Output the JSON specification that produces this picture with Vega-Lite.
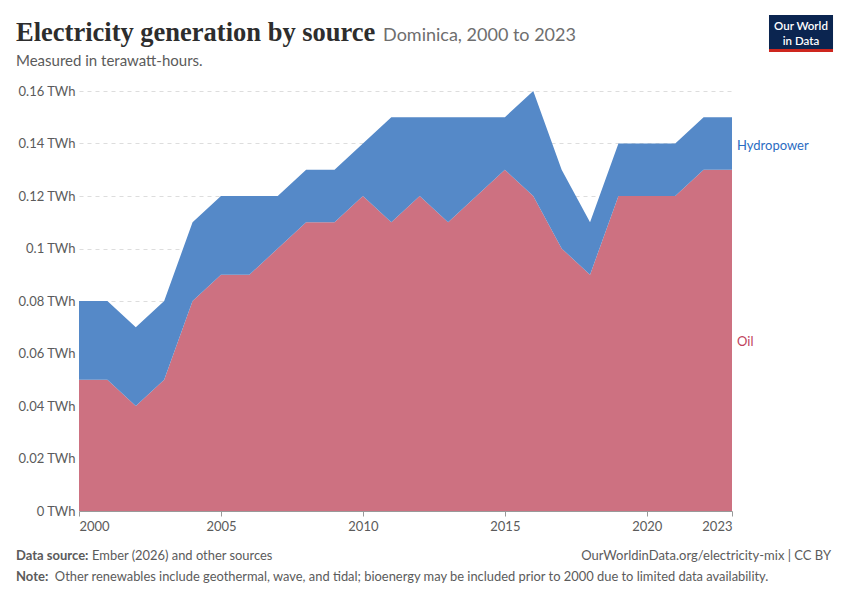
{
  "$schema": "https://vega.github.io/schema/vega-lite/v6.json",
  "width": 653,
  "height": 420,
  "autosize": "none",
  "padding": {"left": 79, "top": 91, "right": 118, "bottom": 89},
  "background": "white",
  "config": {
    "font": "Lato",
    "view": {"stroke": null}
  },
  "data": {
    "values": [
      {"year": 2000, "source": "Oil", "value": 0.05}, {"year": 2000, "source": "Hydropower", "value": 0.03},
      {"year": 2001, "source": "Oil", "value": 0.05}, {"year": 2001, "source": "Hydropower", "value": 0.03},
      {"year": 2002, "source": "Oil", "value": 0.04}, {"year": 2002, "source": "Hydropower", "value": 0.03},
      {"year": 2003, "source": "Oil", "value": 0.05}, {"year": 2003, "source": "Hydropower", "value": 0.03},
      {"year": 2004, "source": "Oil", "value": 0.08}, {"year": 2004, "source": "Hydropower", "value": 0.03},
      {"year": 2005, "source": "Oil", "value": 0.09}, {"year": 2005, "source": "Hydropower", "value": 0.03},
      {"year": 2006, "source": "Oil", "value": 0.09}, {"year": 2006, "source": "Hydropower", "value": 0.03},
      {"year": 2007, "source": "Oil", "value": 0.10}, {"year": 2007, "source": "Hydropower", "value": 0.02},
      {"year": 2008, "source": "Oil", "value": 0.11}, {"year": 2008, "source": "Hydropower", "value": 0.02},
      {"year": 2009, "source": "Oil", "value": 0.11}, {"year": 2009, "source": "Hydropower", "value": 0.02},
      {"year": 2010, "source": "Oil", "value": 0.12}, {"year": 2010, "source": "Hydropower", "value": 0.02},
      {"year": 2011, "source": "Oil", "value": 0.11}, {"year": 2011, "source": "Hydropower", "value": 0.04},
      {"year": 2012, "source": "Oil", "value": 0.12}, {"year": 2012, "source": "Hydropower", "value": 0.03},
      {"year": 2013, "source": "Oil", "value": 0.11}, {"year": 2013, "source": "Hydropower", "value": 0.04},
      {"year": 2014, "source": "Oil", "value": 0.12}, {"year": 2014, "source": "Hydropower", "value": 0.03},
      {"year": 2015, "source": "Oil", "value": 0.13}, {"year": 2015, "source": "Hydropower", "value": 0.02},
      {"year": 2016, "source": "Oil", "value": 0.12}, {"year": 2016, "source": "Hydropower", "value": 0.04},
      {"year": 2017, "source": "Oil", "value": 0.10}, {"year": 2017, "source": "Hydropower", "value": 0.03},
      {"year": 2018, "source": "Oil", "value": 0.09}, {"year": 2018, "source": "Hydropower", "value": 0.02},
      {"year": 2019, "source": "Oil", "value": 0.12}, {"year": 2019, "source": "Hydropower", "value": 0.02},
      {"year": 2020, "source": "Oil", "value": 0.12}, {"year": 2020, "source": "Hydropower", "value": 0.02},
      {"year": 2021, "source": "Oil", "value": 0.12}, {"year": 2021, "source": "Hydropower", "value": 0.02},
      {"year": 2022, "source": "Oil", "value": 0.13}, {"year": 2022, "source": "Hydropower", "value": 0.02},
      {"year": 2023, "source": "Oil", "value": 0.13}, {"year": 2023, "source": "Hydropower", "value": 0.02}
    ]
  },
  "layer": [
    {
      "mark": {"type": "area", "opacity": 1},
      "encoding": {
        "x": {
          "field": "year", "type": "quantitative",
          "scale": {"domain": [2000, 2023], "nice": false, "zero": false},
          "axis": {
            "title": null, "values": [2000, 2005, 2010, 2015, 2020, 2023], "format": "d",
            "labelFlush": true, "labelFontSize": 13, "labelColor": "#5b5b5b",
            "domainColor": "#999999", "tickColor": "#999999", "tickSize": 5,
            "labelPadding": 4, "grid": false
          }
        },
        "y": {
          "field": "value", "type": "quantitative", "stack": "zero",
          "scale": {"domain": [0, 0.16], "nice": false},
          "axis": {
            "title": null, "tickCount": 8, "format": "~g",
            "labelExpr": "datum.label + ' TWh'",
            "labelFontSize": 13, "labelColor": "#5b5b5b", "labelPadding": 4,
            "domain": false, "ticks": false,
            "gridColor": "#dddddd", "gridDash": [4, 4]
          }
        },
        "color": {
          "field": "source", "type": "nominal",
          "scale": {"domain": ["Hydropower", "Oil"], "range": ["#5589c8", "#cd7181"]},
          "legend": null
        },
        "order": {"field": "source", "sort": "descending"}
      }
    },
    {
      "transform": [
        {"filter": "datum.year == 2023"},
        {"stack": "value", "groupby": ["year"], "sort": [{"field": "source", "order": "descending"}], "as": ["v0", "v1"]},
        {"calculate": "(datum.v0 + datum.v1) / 2", "as": "mid"}
      ],
      "mark": {"type": "text", "align": "left", "baseline": "middle", "dx": 5, "dy": 2, "fontSize": 13},
      "encoding": {
        "x": {"field": "year", "type": "quantitative"},
        "y": {"field": "mid", "type": "quantitative"},
        "text": {"field": "source"},
        "color": {"condition": {"test": "datum.source == 'Oil'", "value": "#c0435c"}, "value": "#2b6cc2"}
      }
    },
    {
      "data": {"values": [{"t": "Electricity generation by source", "x": 1997.781, "y": 0.17905}]},
      "mark": {"type": "text", "align": "left", "baseline": "alphabetic", "font": "Liberation Serif", "fontSize": 26.5, "fontWeight": "bold", "color": "#2d2d2d"},
      "encoding": {
        "x": {"field": "x", "type": "quantitative"},
        "y": {"field": "y", "type": "quantitative"},
        "text": {"field": "t"}
      }
    },
    {
      "data": {"values": [{"t": "Dominica, 2000 to 2023", "x": 2010.71, "y": 0.17905}]},
      "mark": {"type": "text", "align": "left", "baseline": "alphabetic", "fontSize": 18, "color": "#6e6e6e"},
      "encoding": {
        "x": {"field": "x", "type": "quantitative"},
        "y": {"field": "y", "type": "quantitative"},
        "text": {"field": "t"}
      }
    },
    {
      "data": {"values": [{"t": "Measured in terawatt-hours.", "x": 1997.781, "y": 0.16952}]},
      "mark": {"type": "text", "align": "left", "baseline": "alphabetic", "fontSize": 15, "color": "#5b5b5b"},
      "encoding": {
        "x": {"field": "x", "type": "quantitative"},
        "y": {"field": "y", "type": "quantitative"},
        "text": {"field": "t"}
      }
    },
    {
      "data": {"values": [{"a": 2024.303, "b": 2026.558, "top": 0.18895, "bot": 0.176}]},
      "mark": {"type": "rect", "color": "#0b2550"},
      "encoding": {
        "x": {"field": "a", "type": "quantitative"},
        "x2": {"field": "b"},
        "y": {"field": "top", "type": "quantitative"},
        "y2": {"field": "bot"}
      }
    },
    {
      "data": {"values": [{"a": 2024.303, "b": 2026.558, "top": 0.176, "bot": 0.17486}]},
      "mark": {"type": "rect", "color": "#ce261e"},
      "encoding": {
        "x": {"field": "a", "type": "quantitative"},
        "x2": {"field": "b"},
        "y": {"field": "top", "type": "quantitative"},
        "y2": {"field": "bot"}
      }
    },
    {
      "data": {"values": [{"t": "Our World", "x": 2025.43, "y": 0.18305}, {"t": "in Data", "x": 2025.43, "y": 0.17771}]},
      "mark": {"type": "text", "align": "center", "baseline": "alphabetic", "fontSize": 11.5, "fontWeight": 600, "color": "white"},
      "encoding": {
        "x": {"field": "x", "type": "quantitative"},
        "y": {"field": "y", "type": "quantitative"},
        "text": {"field": "t"}
      }
    },
    {
      "data": {"values": [
        {"t": "Data source:", "x": 1997.781, "y": -0.018667},
        {"t": "Note:", "x": 1997.781, "y": -0.026667}
      ]},
      "mark": {"type": "text", "align": "left", "baseline": "alphabetic", "fontSize": 13, "fontWeight": "bold", "color": "#5b5b5b"},
      "encoding": {
        "x": {"field": "x", "type": "quantitative"},
        "y": {"field": "y", "type": "quantitative"},
        "text": {"field": "t"}
      }
    },
    {
      "data": {"values": [
        {"t": "Ember (2026) and other sources", "x": 2000.46, "y": -0.018667},
        {"t": "Other renewables include geothermal, wave, and tidal; bioenergy may be included prior to 2000 due to limited data availability.", "x": 1999.15, "y": -0.026667}
      ]},
      "mark": {"type": "text", "align": "left", "baseline": "alphabetic", "fontSize": 12.9, "color": "#5b5b5b"},
      "encoding": {
        "x": {"field": "x", "type": "quantitative"},
        "y": {"field": "y", "type": "quantitative"},
        "text": {"field": "t"}
      }
    },
    {
      "data": {"values": [{"t": "OurWorldinData.org/electricity-mix | CC BY", "x": 2026.487, "y": -0.018667}]},
      "mark": {"type": "text", "align": "right", "baseline": "alphabetic", "fontSize": 13, "color": "#5b5b5b"},
      "encoding": {
        "x": {"field": "x", "type": "quantitative"},
        "y": {"field": "y", "type": "quantitative"},
        "text": {"field": "t"}
      }
    }
  ]
}
